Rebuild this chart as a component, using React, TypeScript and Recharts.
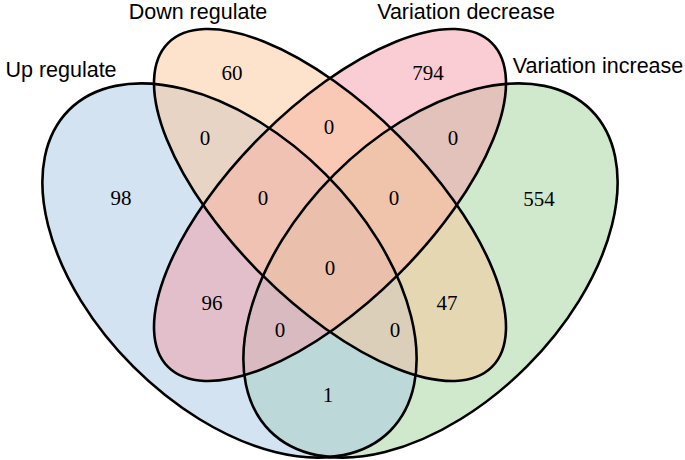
import { ScatterChart, Scatter, XAxis, YAxis } from 'recharts';

// four sets
const setKeys = ['A', 'B', 'C', 'D'];
const setNames = ['Up regulate', 'Down regulate', 'Variation decrease', 'Variation increase'];
const setColors = ['#a7c7e3', '#fbc599', '#f39ba7', '#a1d199'];

// region membership and counts
const regionKeys = ['A', 'B', 'C', 'D', 'AB', 'BC', 'CD', 'ABC', 'BCD', 'ABCD', 'AC', 'ACD', 'ABD', 'BD', 'AD'];
const regionCounts = [98, 60, 794, 554, 0, 0, 0, 0, 0, 0, 96, 0, 0, 47, 1];

// layout (chart units == pixels)
const W = 685;
const H = 460;
const ellipseLayout: Record<string, { cx: number; cy: number; rx: number; ry: number; angle: number }> = {
  A: { cx: 229.5, cy: 270.5, rx: 227, ry: 136, angle: 45 },
  B: { cx: 330, cy: 205, rx: 229, ry: 97.5, angle: 45 },
  C: { cx: 330, cy: 205, rx: 229, ry: 97.5, angle: -45 },
  D: { cx: 430.5, cy: 270.5, rx: 227, ry: 136, angle: -45 },
};
const nameLayout: Record<string, [number, number]> = {
  A: [61, 69],
  B: [198, 11],
  C: [466, 11],
  D: [598, 65.5],
};
const regionLayout: Record<string, [number, number]> = {
  A: [121, 198], B: [232, 73], C: [428, 73], D: [539, 199],
  AB: [205, 138], BC: [329, 127], CD: [453, 138],
  ABC: [263, 198], BCD: [394, 198], ABCD: [330, 268],
  AC: [212, 303], ACD: [280, 330], ABD: [395, 330], BD: [447, 303], AD: [328, 395],
};

// draw order of fills: green, blue, pink, orange
const fillOrder = ['D', 'A', 'C', 'B'];

const ellipseData = setKeys.map((k, i) => ({
  x: ellipseLayout[k].cx,
  y: ellipseLayout[k].cy,
  key: k,
  color: setColors[i],
}));
const fillData = fillOrder.map((k) => ellipseData.find((e) => e.key === k)!);
const nameData = setKeys.map((k, i) => ({ x: nameLayout[k][0], y: nameLayout[k][1], label: setNames[i] }));
const countData = regionKeys.map((k, i) => ({ x: regionLayout[k][0], y: regionLayout[k][1], label: String(regionCounts[i]) }));

function EllipseShape(props: any) {
  const { cx, cy, payload, outline } = props;
  const g = ellipseLayout[payload.key];
  return (
    <ellipse
      cx={cx}
      cy={cy}
      rx={g.rx}
      ry={g.ry}
      transform={`rotate(${g.angle} ${cx} ${cy})`}
      fill={outline ? 'none' : payload.color}
      fillOpacity={outline ? 0 : 0.5}
      stroke={outline ? '#000' : 'none'}
      strokeWidth={2.6}
    />
  );
}

function NameShape(props: any) {
  const { cx, cy, payload } = props;
  return (
    <text x={cx} y={cy} dy="0.35em" textAnchor="middle" fontFamily="'Liberation Sans', Arial, sans-serif" fontSize={21.5} fill="#000">
      {payload.label}
    </text>
  );
}

function CountShape(props: any) {
  const { cx, cy, payload } = props;
  return (
    <text x={cx} y={cy} dy="0.35em" textAnchor="middle" fontFamily="'Liberation Serif', 'Times New Roman', serif" fontSize={21} fill="#000">
      {payload.label}
    </text>
  );
}

export default function App() {
  return (
    <div style={{ position: 'absolute', left: 0, top: 0, background: '#fff' }}>
      <ScatterChart width={W} height={H} margin={{ top: 0, right: 0, bottom: 0, left: 0 }}>
        <XAxis type="number" dataKey="x" domain={[0, W]} hide />
        <YAxis type="number" dataKey="y" domain={[0, H]} reversed hide />
        <Scatter data={fillData} isAnimationActive={false} shape={(p: any) => <EllipseShape {...p} />} />
        <Scatter data={ellipseData} isAnimationActive={false} shape={(p: any) => <EllipseShape {...p} outline />} />
        <Scatter data={nameData} isAnimationActive={false} shape={(p: any) => <NameShape {...p} />} />
        <Scatter data={countData} isAnimationActive={false} shape={(p: any) => <CountShape {...p} />} />
      </ScatterChart>
    </div>
  );
}
